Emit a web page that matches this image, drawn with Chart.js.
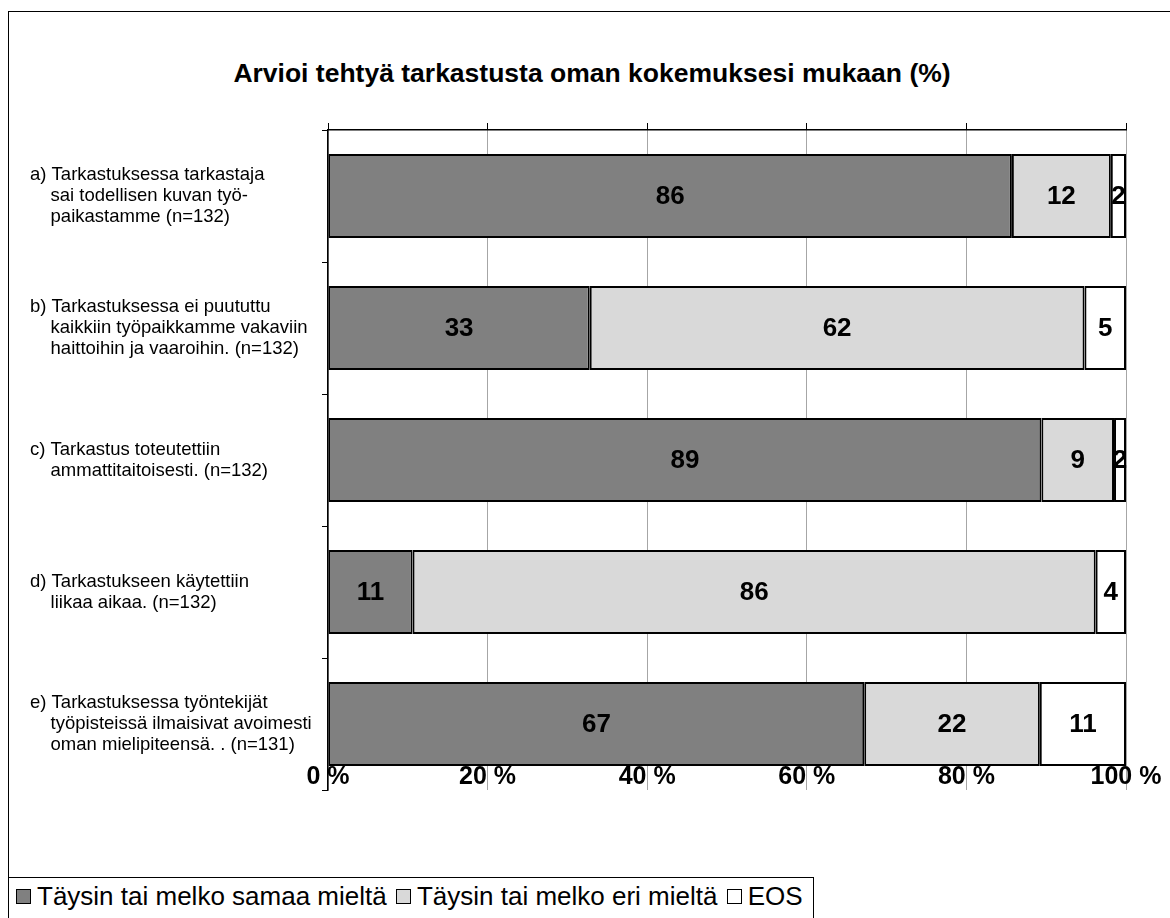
<!DOCTYPE html>
<html>
<head>
<meta charset="utf-8">
<script src="https://cdn.jsdelivr.net/npm/chart.js@4"></script>
<style>
  html, body { margin: 0; padding: 0; background: #fff; overflow: hidden; }
  body { width: 1170px; height: 918px; position: relative; font-family: Arial, "Liberation Sans", sans-serif; }
  #frame { position: absolute; left: 8px; top: 11px; width: 1200px; height: 1000px; border: 1.5px solid #000; box-sizing: border-box; }
  #title { position: absolute; left: 0; top: 58px; width: 1184px; text-align: center; font-weight: bold; font-size: 26.5px; color: #000; }
  #chart { position: absolute; left: 0; top: 0; }
  #legend { position: absolute; left: 8px; top: 877px; height: 60px; border: 1.5px solid #000; box-sizing: border-box; background: #fff; font-size: 26px; line-height: 30px; padding: 3px 10px 0 5px; white-space: nowrap; color: #000; }
  #legend .sw { display: inline-block; width: 13px; height: 13px; border: 1.5px solid #000; margin: 0 6px 0 2px; vertical-align: 1px; }
</style>
</head>
<body>
<div id="frame"></div>
<div id="title">Arvioi tehtyä tarkastusta oman kokemuksesi mukaan (%)</div>
<canvas id="chart" width="1170" height="918"></canvas>
<div id="legend"></div>
<script>
const categories = [
  ['a) Tarkastuksessa tarkastaja', '    sai todellisen kuvan työ-', '    paikastamme (n=132)'],
  ['b) Tarkastuksessa ei puututtu', '    kaikkiin työpaikkamme vakaviin', '    haittoihin ja vaaroihin. (n=132)'],
  ['c) Tarkastus toteutettiin', '    ammattitaitoisesti. (n=132)'],
  ['d) Tarkastukseen käytettiin', '    liikaa aikaa. (n=132)'],
  ['e) Tarkastuksessa työntekijät', '    työpisteissä ilmaisivat avoimesti', '    oman mielipiteensä. . (n=131)']
];
const seriesNames = ['Täysin tai melko samaa mieltä', 'Täysin tai melko eri mieltä', 'EOS'];
const samaa = [85.7, 32.8, 89.4, 10.6, 67.2];
const eri = [12.4, 62.0, 9.1, 85.6, 22.0];
const eos = [1.9, 5.2, 1.5, 3.8, 10.8];
const seriesColors = ['#808080', '#d9d9d9', '#ffffff'];
const xTicks = [0, 20, 40, 60, 80, 100];

const seriesData = [samaa, eri, eos];

// legend built from the series arrays
const legendEl = document.getElementById('legend');
seriesNames.forEach((name, i) => {
  const sw = document.createElement('span');
  sw.className = 'sw';
  sw.style.background = seriesColors[i];
  legendEl.appendChild(sw);
  legendEl.appendChild(document.createTextNode(name + (i < seriesNames.length - 1 ? ' ' : '')));
});

const valueLabels = {
  id: 'valueLabels',
  afterDatasetsDraw(chart) {
    const ctx = chart.ctx;
    ctx.save();
    ctx.font = 'bold 26px Arial, "Liberation Sans", sans-serif';
    ctx.fillStyle = '#000';
    ctx.textAlign = 'center';
    ctx.textBaseline = 'middle';
    chart.data.datasets.forEach((ds, di) => {
      chart.getDatasetMeta(di).data.forEach((el, i) => {
        const cx = (el.x + el.base) / 2;
        ctx.fillText(String(Math.round(ds.data[i])), cx, el.y + 1);
      });
    });
    ctx.restore();
  }
};

const ctx = document.getElementById('chart').getContext('2d');
new Chart(ctx, {
  type: 'bar',
  data: {
    labels: categories,
    datasets: seriesNames.map((name, i) => ({
      label: name,
      data: seriesData[i],
      backgroundColor: seriesColors[i],
      borderColor: '#000',
      borderWidth: 2,
      borderSkipped: false,
      barPercentage: 0.635,
      categoryPercentage: 1
    }))
  },
  options: {
    indexAxis: 'y',
    responsive: false,
    animation: false,
    layout: { padding: { left: 30, right: 44, top: 123, bottom: 128 } },
    plugins: {
      legend: { display: false },
      title: { display: false },
      tooltip: { enabled: false }
    },
    scales: {
      x: {
        stacked: true,
        min: 0, max: 100,
        position: 'bottom',
        afterBuildTicks: s => { s.ticks = xTicks.map(v => ({ value: v })); },
        ticks: {
          mirror: true,
          padding: 0,
          color: '#000',
          font: { family: 'Arial, "Liberation Sans", sans-serif', size: 25, weight: 'bold', lineHeight: 1.05 },
          callback: v => v + ' %',
          maxRotation: 0
        },
        grid: { color: '#a6a6a6', lineWidth: 1, drawTicks: false },
        border: { display: false }
      },
      xTop: {
        type: 'linear',
        min: 0, max: 100,
        position: 'top',
        afterBuildTicks: s => { s.ticks = xTicks.map(v => ({ value: v })); },
        ticks: { display: false },
        grid: { drawOnChartArea: false, tickLength: 7, color: '#000', lineWidth: 1 },
        border: { display: true, color: '#000', width: 1.5 }
      },
      y: {
        stacked: true,
        position: 'left',
        afterFit: s => { s.width = 298; },
        ticks: {
          crossAlign: 'far',
          autoSkip: false,
          color: '#000',
          font: { family: 'Arial, "Liberation Sans", sans-serif', size: 18.5, lineHeight: 1.135 }
        },
        grid: { offset: true, drawOnChartArea: false, tickLength: 6, color: '#000', lineWidth: 1 },
        border: { display: true, color: '#000', width: 1.5 }
      }
    }
  },
  plugins: [valueLabels]
});
</script>
</body>
</html>
